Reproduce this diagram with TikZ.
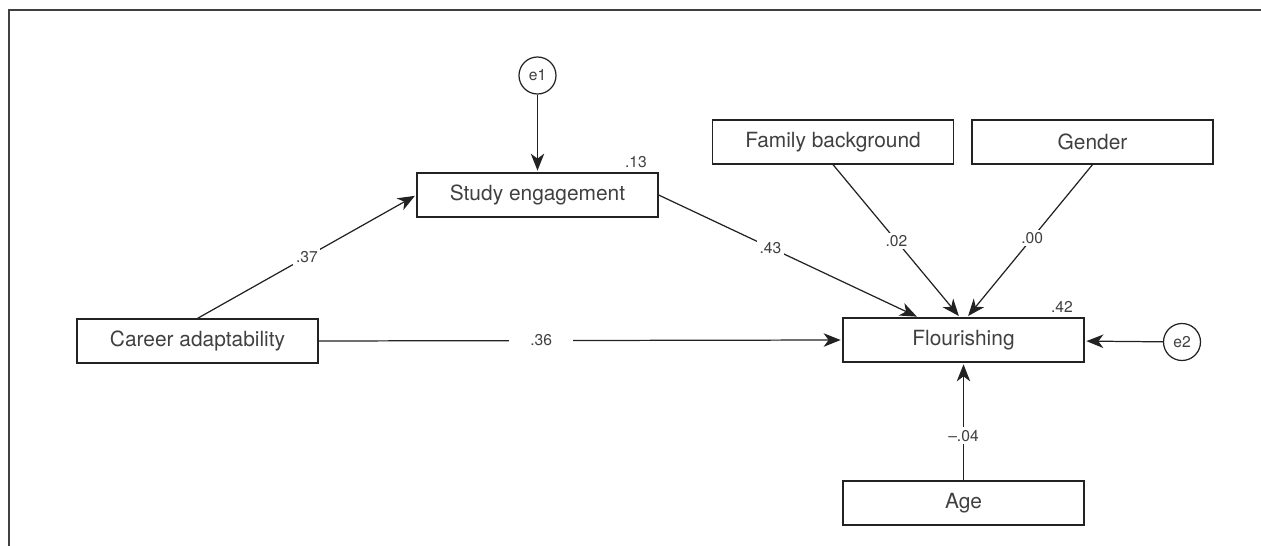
\documentclass[tikz,border=0pt]{standalone}
\usepackage{fontspec}
\setmainfont{TeX Gyre Heros}
\usetikzlibrary{arrows.meta}

\definecolor{trait}{HTML}{222222}
\definecolor{texte}{HTML}{404040}

\tikzset{boite/.style = {draw = trait, line width = 0.7pt, rectangle,
                         minimum width = 4.82cm, minimum height = 0.88cm,
                         text = texte, font = \fontsize{11.9}{13}\selectfont},
         erreur/.style = {draw = trait, line width = 0.7pt, circle,
                          minimum size = 0.74cm, inner sep = 0pt,
                          text = texte, font = \fontsize{8.9}{10}\selectfont},
         coef/.style = {fill = white, inner sep = 1.5pt,
                        text = texte, font = \fontsize{8.9}{10}\selectfont},
         fleche/.style = {draw = trait, line width = 0.7pt,
                          -{Stealth[length = 3.4mm, width = 2.7mm, inset = 1mm]}, shorten > = 1pt}
        }

\begin{document}
\begin{tikzpicture}
\useasboundingbox (0,0) rectangle (25.22,-10.92);
% cadre
\draw[black!75, line width = 0.8pt] (25.22,-0.2) -- (0.18,-0.2) -- (0.18,-10.92);
% variables
\node[boite] at (10.75,-3.9) (se) {Study engagement};
\node[boite] at (3.95,-6.82) (ca) {Career adaptability};
\node[boite] at (16.66,-2.84) (fb) {Family background};
\node[boite] at (21.85,-2.84) (g) {Gender};
\node[boite] at (19.27,-6.8) (f) {Flourishing};
\node[boite] at (19.27,-10.06) (age) {Age};
\node[erreur] at (10.75,-1.51) (e1) {e1};
\node[erreur] at (23.64,-6.84) (e2) {e2};
% R2
\node[coef, fill = none, anchor = south east] at ([xshift = -5pt, yshift = 1pt]se.north east) (r1) {.13};
\node[coef, fill = none, anchor = south east] at ([xshift = -5pt, yshift = 1pt]f.north east) (r2) {.42};
% chemins
\draw[fleche] (e1) -- (se);
\draw[fleche] (e2) -- (f);
\draw[fleche] (ca.north) -- (se.west) node[coef, pos = 0.5] {.37};
\draw[fleche] (se.east) -- ([xshift = -0.9cm]f.north) node[coef, pos = 0.43] {.43};
\draw[fleche] (fb.south) -- ([xshift = -0.07cm]f.north) node[coef, pos = 0.5] {.02};
\draw[fleche] (g.south) -- ([xshift = 0.07cm]f.north) node[coef, pos = 0.48] {.00};
\draw[fleche] (ca.east) -- (f.west) node[coef, pos = 0.425, inner xsep = 12pt] {.36};
\draw[fleche] (age.north) -- (f.south) node[coef, pos = 0.38] {--.04};
\end{tikzpicture}
\end{document}
